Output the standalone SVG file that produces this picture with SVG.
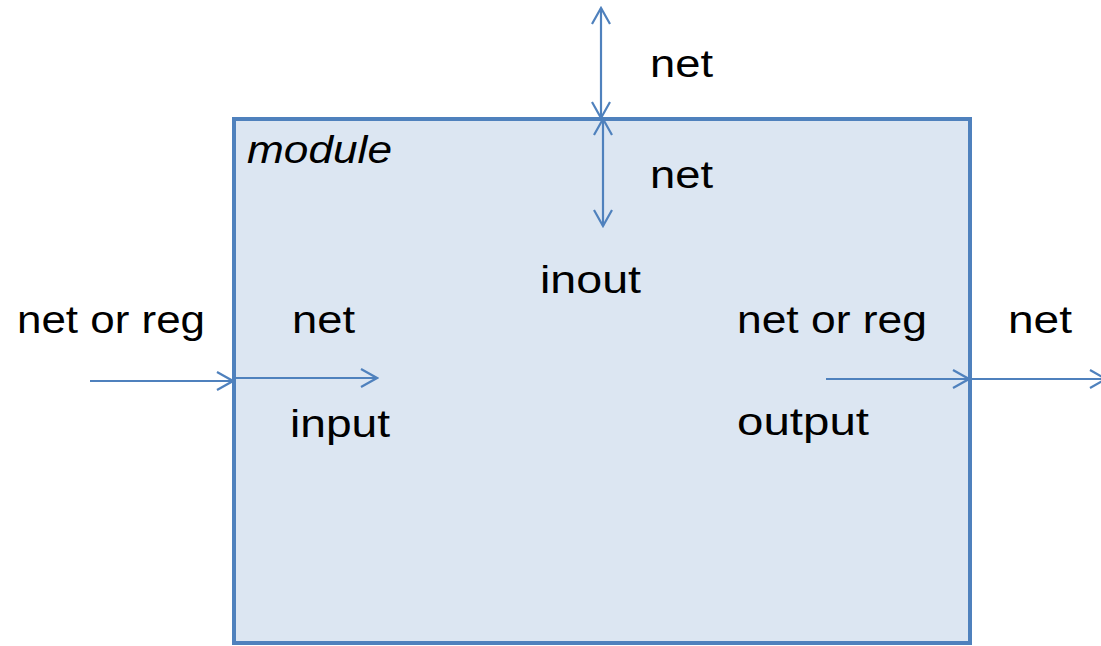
<svg xmlns="http://www.w3.org/2000/svg" width="1101" height="646" viewBox="0 0 1101 646">
  <defs>
    <marker id="open" viewBox="0 0 20 20" refX="18" refY="10" markerWidth="20" markerHeight="20" markerUnits="userSpaceOnUse" orient="auto-start-reverse">
      <path d="M2,1 L18,10 L2,19" fill="none" stroke="#4F81BD" stroke-width="2.2"/>
    </marker>
    <style>
      .lbl { font-family: "Liberation Sans", Arial, sans-serif; font-size: 38px; fill: #000; }
      .conn { stroke: #4F81BD; stroke-width: 2.2; fill: none; }
    </style>
  </defs>
  <rect width="1101" height="646" fill="#fff"/>

  <g id="module">
    <rect x="234" y="119" width="736" height="524" fill="#DCE6F2" stroke="#4F81BD" stroke-width="4"/>
    <text class="lbl" x="247" y="163" font-style="italic" textLength="145" lengthAdjust="spacingAndGlyphs">module</text>
  </g>

  <g id="labels">
    <text class="lbl" x="650" y="77" textLength="63" lengthAdjust="spacingAndGlyphs">net</text>
    <text class="lbl" x="650" y="188" textLength="63" lengthAdjust="spacingAndGlyphs">net</text>
    <text class="lbl" x="540" y="293" textLength="101" lengthAdjust="spacingAndGlyphs">inout</text>
    <text class="lbl" x="17" y="333" textLength="188" lengthAdjust="spacingAndGlyphs">net or reg</text>
    <text class="lbl" x="292" y="333" textLength="63" lengthAdjust="spacingAndGlyphs">net</text>
    <text class="lbl" x="290" y="437" textLength="100" lengthAdjust="spacingAndGlyphs">input</text>
    <text class="lbl" x="737" y="333" textLength="190" lengthAdjust="spacingAndGlyphs">net or reg</text>
    <text class="lbl" x="1008" y="333" textLength="64" lengthAdjust="spacingAndGlyphs">net</text>
    <text class="lbl" x="737" y="435" textLength="132" lengthAdjust="spacingAndGlyphs">output</text>
  </g>

  <g id="connectors">
    <line class="conn" x1="601" y1="8" x2="601" y2="118" marker-start="url(#open)" marker-end="url(#open)"/>
    <line class="conn" x1="603" y1="119" x2="603" y2="226" marker-start="url(#open)" marker-end="url(#open)"/>
    <line class="conn" x1="90" y1="381" x2="233" y2="381" marker-end="url(#open)"/>
    <line class="conn" x1="235" y1="378" x2="377" y2="378" marker-end="url(#open)"/>
    <line class="conn" x1="826" y1="379" x2="969" y2="379" marker-end="url(#open)"/>
    <line class="conn" x1="971" y1="379" x2="1106" y2="379" marker-end="url(#open)"/>
  </g>
</svg>
